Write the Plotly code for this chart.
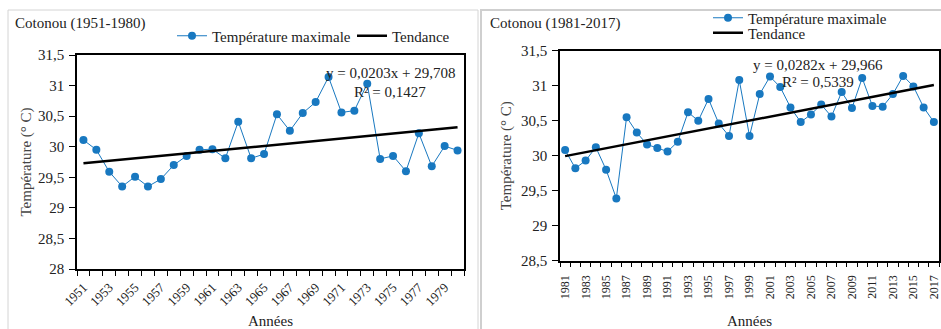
import plotly.graph_objects as go

# Cotonou annual maximum temperature (°C)
years_a = list(range(1951, 1981))
tmax_a = [30.11, 29.95, 29.59, 29.35, 29.51, 29.35, 29.47, 29.70, 29.85, 29.95,
          29.96, 29.81, 30.41, 29.81, 29.88, 30.53, 30.26, 30.55, 30.73, 31.14,
          30.56, 30.59, 31.03, 29.80, 29.85, 29.60, 30.22, 29.68, 30.01, 29.94]
slope_a, icpt_a, r2_a = 0.0203, 29.708, 0.1427

years_b = list(range(1981, 2018))
tmax_b = [30.08, 29.82, 29.93, 30.12, 29.80, 29.39, 30.55, 30.33, 30.16, 30.11,
          30.06, 30.20, 30.62, 30.50, 30.81, 30.46, 30.28, 31.08, 30.28, 30.88,
          31.13, 30.98, 30.69, 30.48, 30.59, 30.73, 30.56, 30.91, 30.68, 31.11,
          30.71, 30.70, 30.88, 31.14, 30.99, 30.69, 30.48]
slope_b, icpt_b, r2_b = 0.0282, 29.966, 0.5339

W, H = 941, 329
FONT = "Liberation Serif, Times New Roman, serif"
BLUE = "#1878c0"
TXT = "#222"


def fmt(v, nd):
    return f"{v:.{nd}f}".replace(".", ",")


def trend(years, slope, icpt):
    return [slope * (i + 1) + icpt for i in range(len(years))]


def px_x(p):
    return p / W


def px_y(p):
    return 1 - p / H


fig = go.Figure()

# left panel
fig.add_trace(go.Scatter(x=years_a, y=tmax_a, mode="lines+markers", name="Température maximale",
                         line=dict(color=BLUE, width=1), marker=dict(color=BLUE, size=8),
                         xaxis="x", yaxis="y", legend="legend"))
fig.add_trace(go.Scatter(x=years_a, y=trend(years_a, slope_a, icpt_a), mode="lines", name="Tendance",
                         line=dict(color="black", width=2.5), xaxis="x", yaxis="y", legend="legend4"))

# right panel
fig.add_trace(go.Scatter(x=years_b, y=tmax_b, mode="lines+markers", name="Température maximale",
                         line=dict(color=BLUE, width=1), marker=dict(color=BLUE, size=8),
                         xaxis="x2", yaxis="y2", legend="legend2"))
fig.add_trace(go.Scatter(x=years_b, y=trend(years_b, slope_b, icpt_b), mode="lines", name="Tendance",
                         line=dict(color="black", width=2.5), xaxis="x2", yaxis="y2", legend="legend3"))


def xaxis(years, domain, angle, size, standoff, title_standoff, anchor):
    return dict(domain=domain, range=[years[0] - 0.5, years[-1] + 0.5], anchor=anchor,
                tickmode="array", tickvals=years[::2], ticktext=[str(y) for y in years[::2]],
                tickangle=angle, ticks="", showgrid=False, zeroline=False,
                ticklabelstandoff=standoff, ticklabeloverflow="allow", automargin=False,
                showline=True, linecolor="black", linewidth=1.5, mirror=True,
                tickfont=dict(family=FONT, size=size, color=TXT),
                minor=dict(tickmode="linear", tick0=years[0] - 0.5, dtick=1, ticks="outside",
                           ticklen=5, tickcolor="black", tickwidth=1, showgrid=False),
                title=dict(text="Années", font=dict(family=FONT, size=15, color=TXT),
                           standoff=title_standoff),
                fixedrange=True)


def yaxis(lo, domain, anchor, title_standoff):
    return dict(domain=domain, range=[lo, 31.5], dtick=0.5, tick0=lo, anchor=anchor,
                ticks="outside", ticklen=6, tickcolor="black", showgrid=False, zeroline=False,
                automargin=False, ticklabelstandoff=2,
                showline=True, linecolor="black", linewidth=1.5, mirror=True,
                tickfont=dict(family=FONT, size=15, color=TXT),
                title=dict(text="Température (° C)", font=dict(family=FONT, size=15, color="#444"),
                           standoff=title_standoff),
                fixedrange=True)


legend_common = dict(font=dict(family=FONT, size=15, color=TXT), bgcolor="rgba(0,0,0,0)",
                     xanchor="left", yanchor="middle", tracegroupgap=0, borderwidth=0,
                     orientation="v")

fig.update_layout(
    width=W, height=H, margin=dict(l=0, r=0, t=0, b=0, autoexpand=False),
    paper_bgcolor="white", plot_bgcolor="white", separators=", ",
    xaxis=xaxis(years_a, [px_x(77), px_x(464)], -45, 13, 4, 11, "y"),
    yaxis=yaxis(28, [px_y(269), px_y(55)], "x", 3),
    xaxis2=xaxis(years_b, [px_x(560), px_x(939)], -90, 12, 8, 22, "y2"),
    yaxis2=yaxis(28.5, [px_y(260.7), px_y(50.7)], "x2", 6),
    legend=dict(x=px_x(172), y=px_y(36), **legend_common),
    legend4=dict(x=px_x(352), y=px_y(36), **legend_common),
    legend2=dict(x=px_x(708), y=px_y(18), **legend_common),
    legend3=dict(x=px_x(708), y=px_y(33), **legend_common),
    showlegend=True,
)

# panel frames
fig.add_shape(type="rect", xref="paper", yref="paper", x0=px_x(8), x1=px_x(478),
              y0=px_y(340), y1=px_y(10), line=dict(color="#d4d4d4", width=1))
fig.add_shape(type="rect", xref="paper", yref="paper", x0=px_x(481), x1=px_x(960),
              y0=px_y(340), y1=px_y(10), line=dict(color="#cfcfcf", width=2))

# panel titles
for txt, x in [("Cotonou (1951-1980)", 13), ("Cotonou (1981-2017)", 488)]:
    fig.add_annotation(text=txt, xref="paper", yref="paper", x=px_x(x), y=px_y(23),
                       xanchor="left", yanchor="middle", showarrow=False,
                       font=dict(family=FONT, size=15, color=TXT))

# regression equations
for slope, icpt, r2, xc, y1, y2 in [(slope_a, icpt_a, r2_a, 390, 73, 92),
                                     (slope_b, icpt_b, r2_b, 818, 65, 82)]:
    fig.add_annotation(text=f"y = {fmt(slope, 4)}x + {fmt(icpt, 3)}", xref="paper", yref="paper",
                       x=px_x(xc), y=px_y(y1), xanchor="center", yanchor="middle", showarrow=False,
                       font=dict(family=FONT, size=15, color=TXT))
    fig.add_annotation(text=f"R² = {fmt(r2, 4)}", xref="paper", yref="paper",
                       x=px_x(xc), y=px_y(y2), xanchor="center", yanchor="middle", showarrow=False,
                       font=dict(family=FONT, size=15, color=TXT))

fig.write_html("out.html")
